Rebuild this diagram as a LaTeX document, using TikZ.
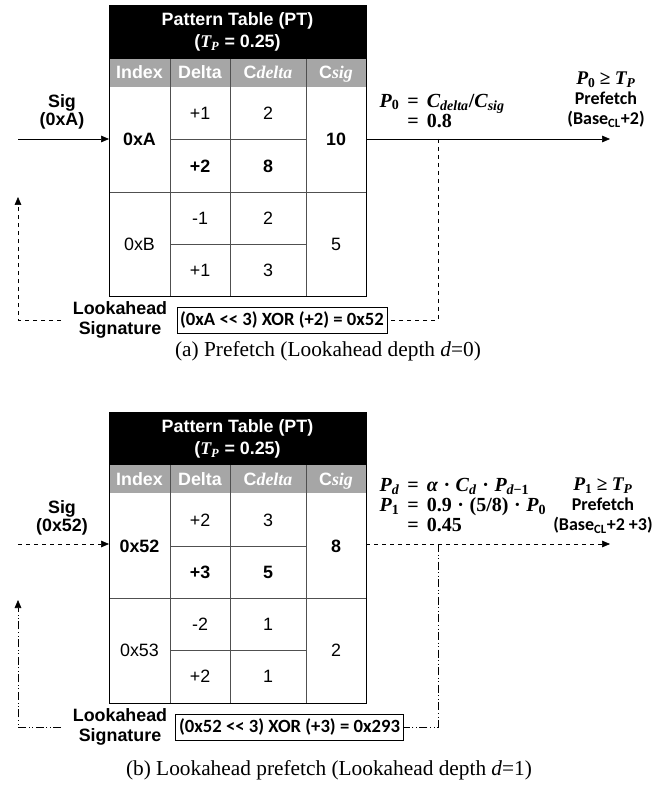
\documentclass[tikz,border=0pt]{standalone}
\usepackage{fontspec}
\setmainfont{Liberation Serif}
\newfontfamily\arialf{Liberation Sans}
\newfontfamily\calibf{Carlito}
\usetikzlibrary{arrows.meta,positioning}

\definecolor{hdgray}{RGB}{166,166,166}
\definecolor{gridgray}{RGB}{80,80,80}

\tikzset{
  cell/.style={font=\arialf\fontsize{13.4}{16}\selectfont, inner sep=1pt},
  bcell/.style={cell, font=\arialf\bfseries\fontsize{13.4}{16}\selectfont},
  hcell/.style={bcell, text=white},
  hdcell/.style={hcell, anchor=base},
  lbl/.style={bcell, align=center, font=\arialf\bfseries\fontsize{13.4}{13.5}\selectfont},
  lookl/.style={lbl, font=\arialf\bfseries\fontsize{13.4}{15.5}\selectfont},
  cal/.style={font=\calibf\bfseries\fontsize{13.5}{15}\selectfont, align=center, inner sep=1pt},
  eqn/.style={font=\rmfamily\bfseries\fontsize{15}{15}\selectfont, align=left, inner sep=1pt, anchor=west},
  xorbox/.style={draw, font=\calibf\bfseries\fontsize{14}{16}\selectfont, inner sep=2.5pt, minimum height=19.5pt},
  capt/.style={font=\fontsize{16}{18}\selectfont},
  arr/.style={-{Triangle[length=6pt,width=5pt]}, thin},
  ddot/.style={dash pattern=on 6pt off 2pt on 0.6pt off 2pt on 0.6pt off 2pt}
}
% bold-italic letters set as text, like the formula font
\newcommand{\mv}[1]{{\rmfamily\bfseries\itshape #1}}
\newcommand{\mn}[1]{{\rmfamily\bfseries #1}}
\newcommand{\sub}[1]{\textsubscript{#1}}
\newcommand{\eq}{\hspace{0.4em}=\hspace{0.4em}}
\newcommand{\dt}{\;·\;}
\newcommand{\Chd}{{\arialf C}{\rmfamily\bfseries\itshape delta}}
\newcommand{\Chs}{{\arialf C}{\rmfamily\bfseries\itshape sig}}
\newcommand{\TPline}{{(}\mv{T}\sub{\mv{P}} = 0.25{)}}

\begin{document}
\begin{tikzpicture}[x=0.75pt, y=-0.75pt]
\useasboundingbox (0,0) rectangle (667,787);

% ---------- (a) Prefetch ----------
% table header
\fill (109,5) rectangle (366,59);
\fill[hdgray] (109,59) rectangle (366,87);
\node[hcell, align=center] (ptA) at (237.5,32) {Pattern Table {(}PT{)}\\\TPline};
\node[hdcell] (hIdxA) at (139.5,79) {Index};
\node[hdcell] (hDelA) at (200,79) {Delta};
\node[hdcell] (hCdA)  at (268,79) {\Chd};
\node[hdcell] (hCsA)  at (336,79) {\Chs};
% grid
\draw[gridgray] (170,59) -- (170,296) (230,59) -- (230,296) (306,59) -- (306,296);
\draw[gridgray] (170,139) -- (306,139) (170,244) -- (306,244) (109,192) -- (366,192);
\draw (109,5) rectangle (366,296);
% cells
\node[bcell] (idxA) at (139.5,139) {0xA};
\node[cell]  (d1A)  at (200,113) {+1};
\node[cell]  (c1A)  at (268,113) {2};
\node[bcell] (d2A)  at (200,166) {+2};
\node[bcell] (c2A)  at (268,166) {8};
\node[bcell] (sA)   at (336,139) {10};
\node[cell]  (idxB) at (139.5,244) {0xB};
\node[cell]  (d3A)  at (200,218) {-1};
\node[cell]  (c3A)  at (268,218) {2};
\node[cell]  (d4A)  at (200,270) {+1};
\node[cell]  (c4A)  at (268,270) {3};
\node[cell]  (s2A)  at (336,244) {5};

% signature in, prefetch out
\node[lbl] (sigA) at (62,112) {Sig\\{(}0xA{)}};
\coordinate (inA) at (18,139);
\coordinate (tinA) at (109,139);
\coordinate (toutA) at (366,139);
\coordinate (tapA) at (438,139);
\coordinate (outA) at (610,139);
\draw[arr] (inA) -- (tinA);
\draw[arr] (toutA) -- (outA);
\node[eqn] (probA) at (378,112) {\mv{P}\sub{0}\eq\mv{C}\sub{\mv{delta}}/\mv{C}\sub{\mv{sig}}\\\phantom{\mv{P}\sub{0}}\eq0.8};
\node[cal] (pfA) at (606,100) {{\fontsize{14.5}{15}\selectfont\mv{P}\sub{\mn{0}} \mn{≥} \mv{T}\sub{\mv{P}}}\\Prefetch\\{(}Base\sub{CL}+2{)}};

% lookahead loop
\node[xorbox] (xorA) at (282,320) {(0xA {<}{<} 3) XOR (+2) = 0x52};
\node[lookl] (lsA) at (120,320) {Lookahead\\Signature};
\coordinate (upA) at (18,197);
\draw[dashed] (tapA) |- (xorA.east);
\draw[dashed, arr] (lsA.west) ++(-10,0) -| (upA);

\node[capt] (capA) at (328,351) {(a) Prefetch (Lookahead depth \textit{d}=0)};

% ---------- (b) Lookahead prefetch ----------
\fill (109,412) rectangle (366,465);
\fill[hdgray] (109,465) rectangle (366,493);
\node[hcell, align=center] (ptB) at (237.5,439) {Pattern Table {(}PT{)}\\\TPline};
\node[hdcell] (hIdxB) at (139.5,485) {Index};
\node[hdcell] (hDelB) at (200,485) {Delta};
\node[hdcell] (hCdB)  at (268,485) {\Chd};
\node[hdcell] (hCsB)  at (336,485) {\Chs};
% grid
\draw[gridgray] (170,465) -- (170,703) (230,465) -- (230,703) (306,465) -- (306,703);
\draw[gridgray] (170,546) -- (306,546) (170,650) -- (306,650) (109,598) -- (366,598);
\draw (109,412) rectangle (366,703);
% cells
\node[bcell] (idxC) at (139.5,546) {0x52};
\node[cell]  (d1B)  at (200,520) {+2};
\node[cell]  (c1B)  at (268,520) {3};
\node[bcell] (d2B)  at (200,572) {+3};
\node[bcell] (c2B)  at (268,572) {5};
\node[bcell] (sB)   at (336,546) {8};
\node[cell]  (idxD) at (139.5,650) {0x53};
\node[cell]  (d3B)  at (200,624) {-2};
\node[cell]  (c3B)  at (268,624) {1};
\node[cell]  (d4B)  at (200,676) {+2};
\node[cell]  (c4B)  at (268,676) {1};
\node[cell]  (s2B)  at (336,650) {2};

% signature in, prefetch out
\node[lbl] (sigB) at (62,518) {Sig\\{(}0x52{)}};
\coordinate (inB) at (18,544);
\coordinate (tinB) at (109,544);
\coordinate (toutB) at (366,544);
\coordinate (tapB) at (438,544);
\coordinate (outB) at (610,544);
\draw[dashed, arr] (inB) -- (tinB);
\draw[dashed, arr] (toutB) -- (outB);
\node[eqn] (probB) at (378,506) {\mv{P}\sub{\mv{d}}\eq\mv{α}\dt\mv{C}\sub{\mv{d}}\dt\mv{P}\sub{\mv{d}−1}\\\mv{P}\sub{1}\eq0.9\dt(5/8)\dt\mv{P}\sub{0}\\\phantom{\mv{P}\sub{1}}\eq0.45};
\node[cal] (pfB) at (603,506) {{\fontsize{14.5}{15}\selectfont\mv{P}\sub{\mn{1}} \mn{≥} \mv{T}\sub{\mv{P}}}\\Prefetch\\{(}Base\sub{CL}+2 +3{)}};

% lookahead loop
\node[xorbox] (xorB) at (289.5,727) {(0x52 {<}{<} 3) XOR (+3) = 0x293};
\node[lookl] (lsB) at (120,727) {Lookahead\\Signature};
\coordinate (upB) at (18,600);
\draw[ddot] (tapB) |- (xorB.east);
\draw[ddot, arr] (lsB.west) ++(-10,0) -| (upB);

\node[capt] (capB) at (329,770) {(b) Lookahead prefetch (Lookahead depth \textit{d}=1)};
\end{tikzpicture}
\end{document}
